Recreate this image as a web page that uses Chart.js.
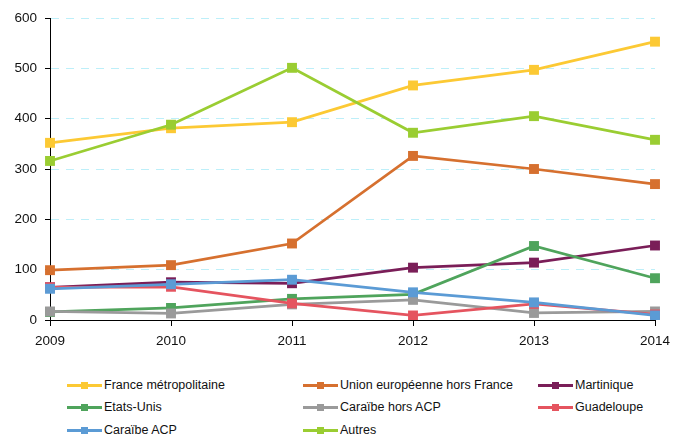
<!DOCTYPE html>
<html>
<head>
<meta charset="utf-8">
<script src="https://cdn.jsdelivr.net/npm/chart.js@4"></script>
<style>
  body { margin: 0; background: #fff; font-family: "Liberation Sans", Arial, sans-serif; }
  #wrap { position: relative; width: 687px; height: 437px; }
  #box { position: absolute; left: 0; top: 0; width: 687px; height: 360px; }
  #legend { position: absolute; left: 0; top: 0; width: 687px; font-size: 12.5px; color: #111; }
  .item { position: absolute; height: 16px; line-height: 16px; white-space: nowrap; }
  .swatch { position: absolute; left: 0; top: 7px; width: 35px; height: 3px; }
  .swatch i { position: absolute; left: 14px; top: -2px; width: 7px; height: 7px; }
  .item span { position: absolute; left: 37px; top: 0; }
</style>
</head>
<body>
<div id="wrap">
  <div id="box"><canvas id="chart"></canvas></div>
  <div id="legend"></div>
</div>
<script>
var years = ['2009', '2010', '2011', '2012', '2013', '2014'];
var seriesNames = ['France métropolitaine', 'Union européenne hors France', 'Martinique',
  'Etats-Unis', 'Caraïbe hors ACP', 'Guadeloupe', 'Caraïbe ACP', 'Autres'];

var franceMetro = [352, 381, 393, 466, 497, 553];
var unionEuro = [99, 109, 152, 326, 300, 270];
var martinique = [65, 75, 73, 104, 114, 148];
var etatsUnis = [16, 24, 42, 51, 147, 83];
var caraibeHorsAcp = [17, 13, 31, 40, 14, 17];
var guadeloupe = [65, 66, 33, 9, 32, 11];
var caraibeAcp = [62, 71, 80, 55, 35, 9];
var autres = [316, 388, 501, 372, 405, 358];

var colors = ['#fcc934', '#d6702f', '#7a1e58', '#4fa45c', '#9a9a9a', '#e5545f', '#5b9bd5', '#9acd32'];
var values = [franceMetro, unionEuro, martinique, etatsUnis, caraibeHorsAcp, guadeloupe, caraibeAcp, autres];

function buildLegend(){
  var cols = [67, 303, 538];
  var rows = [377, 399, 422];
  var el = document.getElementById('legend');
  for (var i = 0; i < seriesNames.length; i++) {
    var d = document.createElement('div');
    d.className = 'item';
    d.style.left = cols[i % 3] + 'px';
    d.style.top = rows[Math.floor(i / 3)] + 'px';
    d.innerHTML = '<div class="swatch" style="background:' + colors[i] + '"><i style="background:' + colors[i] + '"></i></div><span></span>';
    d.querySelector('span').textContent = seriesNames[i];
    el.appendChild(d);
  }
}

function createChart(){
  var ctx = document.getElementById('chart').getContext('2d');
  var datasets = [];
  for (var i = 0; i < seriesNames.length; i++) {
    datasets.push({
      label: seriesNames[i],
      data: values[i],
      borderColor: colors[i],
      backgroundColor: colors[i],
      borderWidth: 2.75,
      pointStyle: 'rect',
      pointRadius: 7,
      pointHoverRadius: 7,
      pointBorderWidth: 0,
      tension: 0,
      order: seriesNames.length - i
    });
  }

  var tickFont = { family: '"Liberation Sans", Arial', size: 13.5 };

  new Chart(ctx, {
    type: 'line',
    data: { labels: years, datasets: datasets },
    options: {
      responsive: true,
      maintainAspectRatio: false,
      animation: false,
      layout: { padding: { left: 0, right: 32, top: 18, bottom: 0 } },
      plugins: { legend: { display: false }, tooltip: { enabled: false } },
      scales: {
        x: {
          offset: false,
          afterFit: function(s){ s.height = 40; },
          border: { color: '#000', width: 1 },
          grid: { drawOnChartArea: false, color: '#000', tickLength: 6 },
          ticks: { color: '#111', padding: 7, maxRotation: 0, font: tickFont }
        },
        y: {
          min: 0, max: 600,
          afterFit: function(s){ s.width = 50; },
          border: { color: '#000', width: 1, dash: [8, 7] },
          grid: {
            color: function(c){ return c.tick && c.tick.value === 0 ? 'rgba(0,0,0,0)' : '#bdeff9'; },
            tickColor: '#000',
            tickLength: 5,
            tickBorderDash: [],
            lineWidth: 1
          },
          ticks: { stepSize: 100, color: '#111', padding: 8, font: tickFont }
        }
      }
    }
  });
}

buildLegend();
createChart();
</script>
</body>
</html>
